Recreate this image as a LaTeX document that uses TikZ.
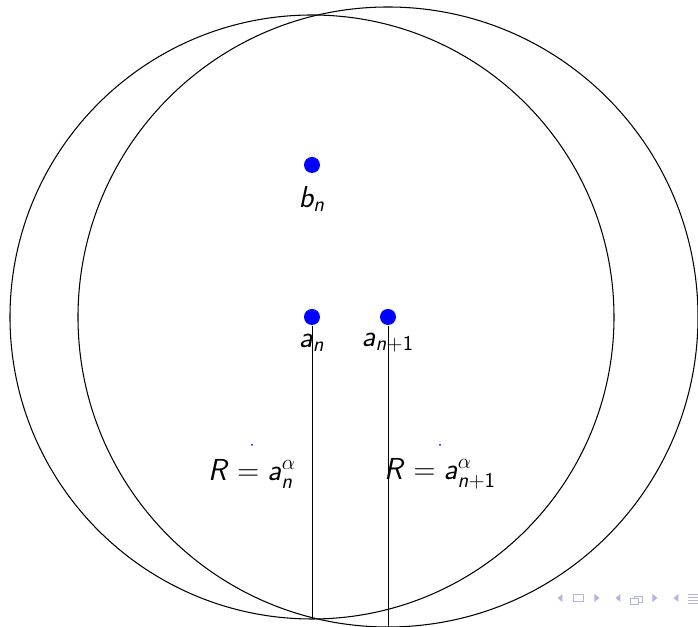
\documentclass[tikz,border=0pt]{standalone}
\usetikzlibrary{positioning}
\DeclareMathAlphabet{\mathsfit}{OT1}{cmss}{m}{sl}
\newcommand{\sv}[1]{\mathsfit{#1}}
\definecolor{navgris}{RGB}{180,180,225}
\tikzset{
  bigdot/.style={
    circle, fill=blue, inner sep=0pt, minimum size=0.32cm
  },
  tinydot/.style={
    circle, fill=blue, inner sep=0pt, minimum size=0.04cm
  },
  ptlabel/.style={
    inner sep=0pt, font=\fontsize{16.5}{20}\selectfont\sffamily
  },
  rayline/.style={line width=0.5pt, black},
  navtri/.style={fill=navgris, draw=none},
  navbox/.style={draw=navgris, line width=0.5pt}
}

\begin{document}
\begin{tikzpicture}[line width=0.6pt]
  \useasboundingbox (-6.24,-6.2) rectangle (7.72,6.34);

  % Circles
  \draw (0,0) circle (6.04);
  \draw (1.52,0) circle (6.2);

  % Centres
  \node[bigdot] (bn)  at (0,3.04) {};
  \node[bigdot] (an)  at (0,0)    {};
  \node[bigdot] (an1) at (1.52,0) {};

  \node[ptlabel] (bnlab)  at (0,2.36)     {$\sv{b}_{\sv{n}}$};
  \node[ptlabel] (anlab)  at (0,-0.52)    {$\sv{a}_{\sv{n}}$};
  \node[ptlabel] (an1lab) at (1.52,-0.52) {$\sv{a}_{\sv{n}+\mathsf{1}}$};

  % Radii
  \coordinate (anbot)  at (0,-6.04);
  \coordinate (an1bot) at (1.52,-6.2);
  \draw[rayline] (an) -- (anbot);
  \draw[rayline] (an1) -- (an1bot);

  % Radius labels
  \node[tinydot] (rn)  at (-1.2,-2.56) {};
  \node[tinydot] (rn1) at (2.56,-2.56) {};
  \node[ptlabel] (rnlab)  at (-1.2,-3.14) {$\sv{R}=\sv{a}_{\sv{n}}^\alpha$};
  \node[ptlabel] (rn1lab) at (2.56,-3.14) {$\sv{R}=\sv{a}_{\sv{n}+\mathsf{1}}^\alpha$};

  % Navigation symbols
  \fill[navtri] (4.91,-5.62) -- (5.01,-5.54) -- (5.01,-5.70) -- cycle;
  \draw[navbox] (5.22,-5.69) rectangle (5.42,-5.55);
  \fill[navtri] (5.75,-5.62) -- (5.65,-5.54) -- (5.65,-5.70) -- cycle;
  \fill[navtri] (6.07,-5.62) -- (6.17,-5.54) -- (6.17,-5.70) -- cycle;
  \draw[navbox] (6.36,-5.74) rectangle (6.52,-5.62);
  \draw[navbox] (6.44,-5.62) -- (6.44,-5.58) -- (6.60,-5.58) -- (6.60,-5.70) -- (6.52,-5.70);
  \fill[navtri] (6.91,-5.62) -- (6.81,-5.54) -- (6.81,-5.70) -- cycle;
  \fill[navtri] (7.23,-5.62) -- (7.33,-5.54) -- (7.33,-5.70) -- cycle;
  \foreach \y in {-5.54,-5.60,-5.66,-5.72}
    \draw[navbox] (7.52,\y) -- (7.72,\y);
\end{tikzpicture}
\end{document}
